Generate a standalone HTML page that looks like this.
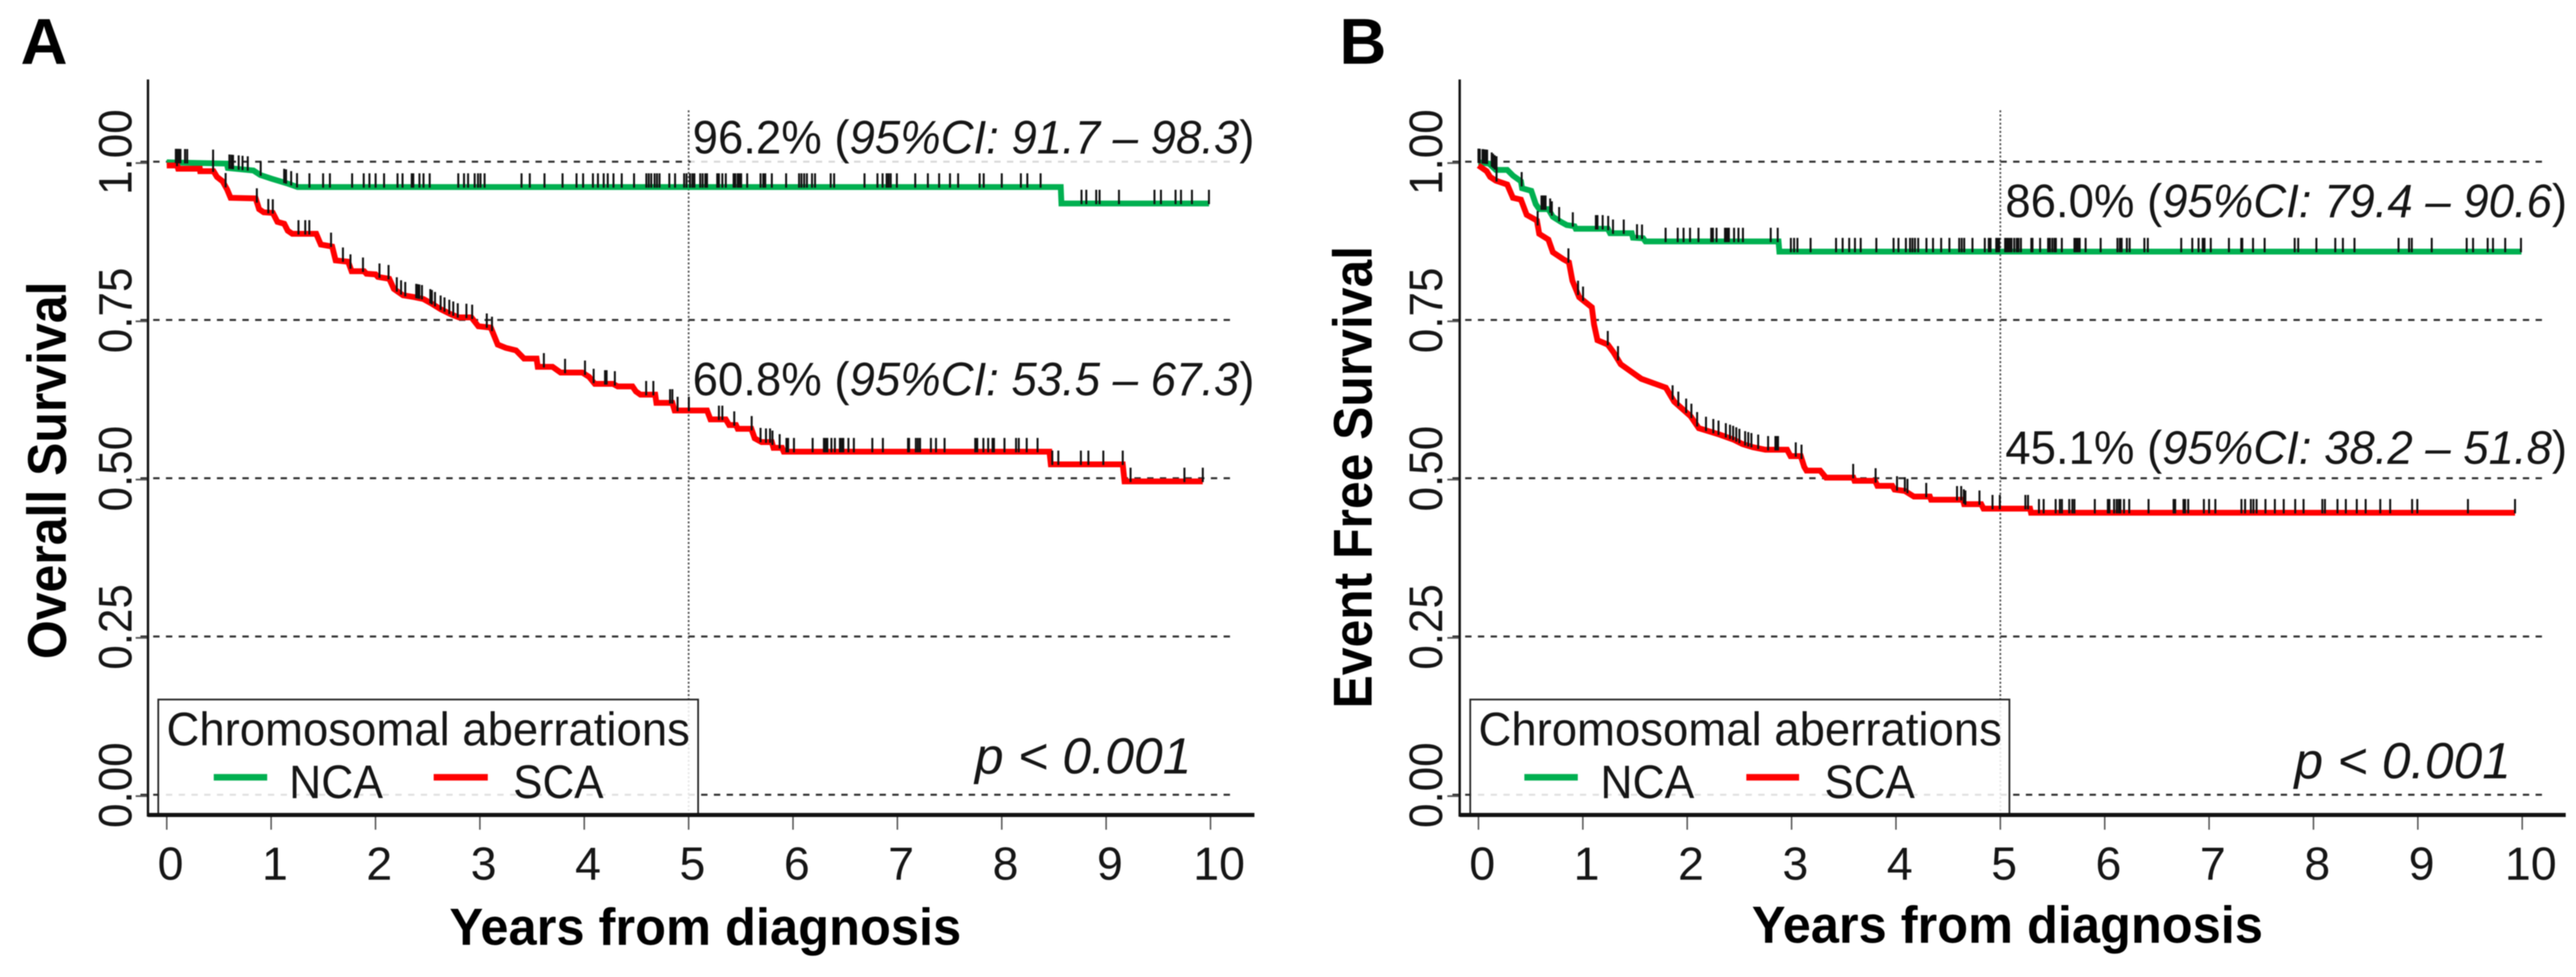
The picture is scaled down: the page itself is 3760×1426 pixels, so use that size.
<!DOCTYPE html>
<html lang="en">
<head>
<meta charset="utf-8">
<title>Kaplan-Meier survival curves by chromosomal aberrations</title>
<style>
html,body{margin:0;padding:0;background:#fff;width:3760px;height:1426px;overflow:hidden}
svg{display:block;filter:blur(.8px)}
text{font-family:"Liberation Sans",sans-serif;fill:#151515}
.b{font-weight:700;fill:#000}
</style>
</head>
<body>
<svg id="figure" xmlns="http://www.w3.org/2000/svg" width="3760" height="1426" viewBox="0 0 3760 1426">
<rect x="0" y="0" width="3760" height="1426" fill="#fff"/>

<g id="panel-a">
  <g id="a-plot"></g>
  <text class="b" x="30" y="93" font-size="95">A</text>
  <text class="b" transform="translate(96,686.5) rotate(-90)" text-anchor="middle" font-size="80" textLength="551" lengthAdjust="spacingAndGlyphs">Overall Survival</text>
  <text class="b" x="656" y="1379" font-size="76" textLength="747" lengthAdjust="spacingAndGlyphs">Years from diagnosis</text>
  <text x="1011" y="224" font-size="69" textLength="820" lengthAdjust="spacingAndGlyphs">96.2% (<tspan font-style="italic">95%CI: 91.7 – 98.3</tspan>)</text>
  <text x="1011" y="577" font-size="69" textLength="820" lengthAdjust="spacingAndGlyphs">60.8% (<tspan font-style="italic">95%CI: 53.5 – 67.3</tspan>)</text>
  <text x="1423" y="1129" font-size="74" font-style="italic" textLength="316" lengthAdjust="spacingAndGlyphs">p &lt; 0.001</text>
  <g>
    <rect x="231" y="1021" width="788" height="168" fill="#fff" fill-opacity=".86" stroke="#222" stroke-width="2.5"/>
    <text x="243" y="1088" font-size="69" textLength="764" lengthAdjust="spacingAndGlyphs">Chromosomal aberrations</text>
    <line x1="312" x2="390" y1="1134.5" y2="1134.5" stroke="#00b050" stroke-width="9.5"/>
    <text x="422" y="1165" font-size="69" textLength="137" lengthAdjust="spacingAndGlyphs">NCA</text>
    <line x1="633" x2="712" y1="1134.5" y2="1134.5" stroke="#ff0000" stroke-width="9.5"/>
    <text x="749" y="1165" font-size="69" textLength="132" lengthAdjust="spacingAndGlyphs">SCA</text>
  </g>
  <line x1="216" x2="1831" y1="1189.5" y2="1189.5" stroke="#111" stroke-width="6"/>
</g>

<g id="panel-b">
  <g id="b-plot"></g>
  <text class="b" x="1955" y="93" font-size="95">B</text>
  <text class="b" transform="translate(2002,696.5) rotate(-90)" text-anchor="middle" font-size="80" textLength="675" lengthAdjust="spacingAndGlyphs">Event Free Survival</text>
  <text class="b" x="2557" y="1376" font-size="76" textLength="746" lengthAdjust="spacingAndGlyphs">Years from diagnosis</text>
  <text x="2927" y="317" font-size="69" textLength="820" lengthAdjust="spacingAndGlyphs">86.0% (<tspan font-style="italic">95%CI: 79.4 – 90.6</tspan>)</text>
  <text x="2927" y="677" font-size="69" textLength="820" lengthAdjust="spacingAndGlyphs">45.1% (<tspan font-style="italic">95%CI: 38.2 – 51.8</tspan>)</text>
  <text x="3349" y="1136" font-size="74" font-style="italic" textLength="316" lengthAdjust="spacingAndGlyphs">p &lt; 0.001</text>
  <g>
    <rect x="2146" y="1021" width="787" height="168" fill="#fff" fill-opacity=".86" stroke="#222" stroke-width="2.5"/>
    <text x="2158" y="1088" font-size="69" textLength="764" lengthAdjust="spacingAndGlyphs">Chromosomal aberrations</text>
    <line x1="2225" x2="2303" y1="1134.5" y2="1134.5" stroke="#00b050" stroke-width="9.5"/>
    <text x="2336" y="1165" font-size="69" textLength="137" lengthAdjust="spacingAndGlyphs">NCA</text>
    <line x1="2549" x2="2626" y1="1134.5" y2="1134.5" stroke="#ff0000" stroke-width="9.5"/>
    <text x="2663" y="1165" font-size="69" textLength="132" lengthAdjust="spacingAndGlyphs">SCA</text>
  </g>
  <line x1="2130.6" x2="3745" y1="1189.5" y2="1189.5" stroke="#111" stroke-width="6"/>
</g>
</svg>

<script>
// Axis tick values and labels
const xTickYears = [0, 1, 2, 3, 4, 5, 6, 7, 8, 9, 10];
const xTickLabels = ["0", "1", "2", "3", "4", "5", "6", "7", "8", "9", "10"];
const yTickValues = [1, 0.75, 0.5, 0.25, 0];
const yTickLabels = ["1.00", "0.75", "0.50", "0.25", "0.00"];

// Panel A: overall survival, NCA
const osNcaYears = [0, 0.575, 0.585, 0.831, 0.896, 1.006, 1.148, 1.253, 8.565, 8.572, 9.986];
const osNcaSurvival = [0.999, 0.997, 0.990, 0.986, 0.979, 0.973, 0.966, 0.960, 0.960, 0.934, 0.934];
const osNcaCensored = [0.087, 0.103, 0.116, 0.131, 0.175, 0.196, 0.444, 0.600, 0.619, 0.635, 0.689, 0.726, 0.776, 0.900, 1.125, 1.143, 1.192, 1.248, 1.367, 1.498, 1.563, 1.776, 1.887, 1.942, 2.001, 2.082, 2.211, 2.259, 2.347, 2.362, 2.421, 2.460, 2.519, 2.793, 2.848, 2.887, 2.950, 2.982, 3.006, 3.045, 3.399, 3.478, 3.619, 3.792, 3.926, 3.989, 4.083, 4.131, 4.186, 4.225, 4.280, 4.359, 4.477, 4.595, 4.618, 4.642, 4.674, 4.697, 4.721, 4.815, 4.870, 4.957, 4.98, 5.013, 5.036, 5.055, 5.111, 5.134, 5.160, 5.176, 5.274, 5.290, 5.323, 5.356, 5.431, 5.447, 5.470, 5.486, 5.503, 5.561, 5.689, 5.715, 5.734, 5.797, 5.934, 6.058, 6.081, 6.107, 6.133, 6.182, 6.211, 6.361, 6.394, 6.685, 6.809, 6.858, 6.897, 6.916, 6.936, 6.995, 7.171, 7.292, 7.400, 7.504, 7.582, 7.788, 7.827, 8.000, 8.183, 8.245, 8.372, 8.764, 8.810, 8.905, 8.937, 9.123, 9.463, 9.525, 9.665, 9.717, 9.822, 9.985];

// Panel A: overall survival, SCA
const osScaYears = [0, 0.100, 0.109, 0.317, 0.320, 0.448, 0.481, 0.535, 0.579, 0.612, 0.852, 0.885, 0.929, 1.017, 1.060, 1.126, 1.159, 1.203, 1.432, 1.476, 1.585, 1.618, 1.738, 1.771, 1.891, 1.913, 2.001, 2.023, 2.132, 2.176, 2.263, 2.373, 2.460, 2.537, 2.624, 2.723, 2.799, 2.919, 2.985, 3.105, 3.171, 3.248, 3.346, 3.423, 3.543, 3.554, 3.696, 3.773, 3.981, 4.047, 4.101, 4.276, 4.320, 4.462, 4.495, 4.538, 4.680, 4.691, 4.844, 4.866, 5.176, 5.209, 5.356, 5.388, 5.454, 5.470, 5.601, 5.633, 5.699, 5.797, 5.813, 5.895, 5.911, 8.457, 8.470, 9.159, 9.176, 9.926];
const osScaSurvival = [0.994, 0.994, 0.989, 0.989, 0.985, 0.985, 0.976, 0.969, 0.956, 0.943, 0.942, 0.925, 0.920, 0.919, 0.905, 0.902, 0.891, 0.886, 0.886, 0.869, 0.866, 0.844, 0.842, 0.827, 0.827, 0.823, 0.822, 0.818, 0.815, 0.799, 0.789, 0.786, 0.783, 0.776, 0.767, 0.759, 0.754, 0.754, 0.740, 0.738, 0.711, 0.706, 0.702, 0.689, 0.689, 0.676, 0.676, 0.667, 0.667, 0.660, 0.649, 0.649, 0.645, 0.645, 0.637, 0.632, 0.632, 0.619, 0.619, 0.607, 0.607, 0.593, 0.593, 0.584, 0.584, 0.578, 0.578, 0.563, 0.557, 0.557, 0.548, 0.548, 0.542, 0.542, 0.522, 0.522, 0.495, 0.495];
const osScaCensored = [0.098, 0.444, 0.564, 0.863, 0.973, 1.016, 1.262, 1.327, 1.366, 1.574, 1.688, 1.760, 1.880, 2.038, 2.125, 2.204, 2.245, 2.285, 2.390, 2.405, 2.420, 2.445, 2.525, 2.540, 2.570, 2.624, 2.661, 2.707, 2.745, 2.788, 2.871, 2.926, 3.066, 3.116, 3.613, 3.816, 4.007, 4.090, 4.199, 4.214, 4.293, 4.593, 4.662, 4.822, 4.844, 4.894, 5.002, 5.290, 5.323, 5.437, 5.604, 5.689, 5.741, 5.780, 5.803, 5.872, 5.937, 5.953, 6.009, 6.188, 6.296, 6.312, 6.329, 6.368, 6.401, 6.449, 6.466, 6.482, 6.531, 6.583, 6.760, 6.861, 7.102, 7.112, 7.177, 7.197, 7.217, 7.321, 7.370, 7.452, 7.746, 7.765, 7.824, 7.870, 7.912, 7.925, 8.026, 8.137, 8.163, 8.239, 8.343, 8.484, 8.542, 8.758, 8.830, 8.973, 9.159, 9.234, 9.750, 9.926];

// Panel B: event free survival, NCA
const efsNcaYears = [0, 0.101, 0.166, 0.276, 0.330, 0.407, 0.418, 0.506, 0.549, 0.582, 0.670, 0.713, 0.790, 0.845, 0.921, 0.932, 1.239, 1.261, 1.469, 1.480, 1.578, 1.600, 2.875, 2.883, 9.993];
const efsNcaSurvival = [0.999, 0.997, 0.987, 0.987, 0.978, 0.969, 0.958, 0.954, 0.933, 0.925, 0.925, 0.913, 0.905, 0.900, 0.898, 0.894, 0.894, 0.887, 0.887, 0.880, 0.879, 0.874, 0.874, 0.858, 0.858];
const efsNcaCensored = [0, 0.006, 0.013, 0.039, 0.050, 0.068, 0.083, 0.127, 0.140, 0.155, 0.173, 0.414, 0.604, 0.617, 0.630, 0.643, 0.687, 0.703, 0.773, 0.904, 1.125, 1.140, 1.190, 1.243, 1.289, 1.392, 1.519, 1.567, 1.793, 1.909, 1.965, 2.027, 2.108, 2.230, 2.246, 2.281, 2.362, 2.372, 2.388, 2.399, 2.449, 2.491, 2.534, 2.800, 2.867, 2.993, 3.024, 3.056, 3.182, 3.426, 3.489, 3.552, 3.607, 3.662, 3.812, 3.977, 4.024, 4.095, 4.135, 4.158, 4.182, 4.213, 4.292, 4.355, 4.433, 4.512, 4.606, 4.630, 4.654, 4.733, 4.851, 4.889, 4.906, 4.961, 4.973, 4.989, 5.046, 5.060, 5.073, 5.090, 5.107, 5.133, 5.157, 5.174, 5.197, 5.297, 5.308, 5.381, 5.458, 5.475, 5.498, 5.519, 5.532, 5.589, 5.710, 5.726, 5.743, 5.760, 5.817, 5.961, 6.122, 6.145, 6.162, 6.212, 6.239, 6.380, 6.413, 6.733, 6.839, 6.899, 6.939, 6.956, 7.016, 7.190, 7.308, 7.318, 7.421, 7.532, 7.820, 7.854, 8.028, 8.209, 8.282, 8.393, 8.815, 8.916, 8.942, 9.133, 9.468, 9.529, 9.669, 9.720, 9.837, 9.988];

// Panel B: event free survival, SCA
const efsScaYears = [0, 0.035, 0.079, 0.112, 0.166, 0.276, 0.330, 0.407, 0.462, 0.560, 0.582, 0.670, 0.713, 0.812, 0.867, 0.900, 0.965, 1.086, 1.107, 1.140, 1.239, 1.293, 1.363, 1.560, 1.796, 1.875, 2.032, 2.111, 2.308, 2.443, 2.530, 2.629, 2.749, 2.957, 2.990, 3.088, 3.121, 3.143, 3.274, 3.329, 3.592, 3.603, 3.800, 3.822, 3.965, 3.986, 4.085, 4.172, 4.325, 4.336, 4.642, 4.653, 4.817, 4.839, 5.285, 5.294, 9.931];
const efsScaSurvival = [0.994, 0.990, 0.985, 0.976, 0.970, 0.964, 0.943, 0.940, 0.916, 0.907, 0.886, 0.877, 0.857, 0.846, 0.841, 0.812, 0.786, 0.770, 0.743, 0.718, 0.711, 0.699, 0.680, 0.657, 0.643, 0.621, 0.598, 0.579, 0.569, 0.561, 0.554, 0.549, 0.545, 0.545, 0.535, 0.535, 0.518, 0.512, 0.512, 0.501, 0.501, 0.496, 0.496, 0.488, 0.488, 0.482, 0.480, 0.471, 0.471, 0.466, 0.466, 0.459, 0.459, 0.452, 0.452, 0.4455, 0.4455];
const efsScaCensored = [0.173, 0.567, 0.862, 0.954, 1.002, 1.239, 1.337, 1.860, 1.915, 1.990, 2.040, 2.095, 2.180, 2.250, 2.300, 2.370, 2.410, 2.440, 2.470, 2.500, 2.555, 2.585, 2.615, 2.680, 2.775, 2.845, 2.855, 2.870, 3.040, 3.095, 3.590, 3.805, 4.010, 4.085, 4.110, 4.290, 4.585, 4.625, 4.650, 4.665, 4.800, 4.925, 4.995, 5.240, 5.265, 5.370, 5.415, 5.530, 5.570, 5.590, 5.660, 5.690, 5.710, 5.905, 6.030, 6.045, 6.090, 6.115, 6.135, 6.150, 6.185, 6.235, 6.420, 6.660, 6.675, 6.755, 6.770, 6.800, 6.950, 7.000, 7.060, 7.310, 7.345, 7.400, 7.425, 7.455, 7.540, 7.630, 7.715, 7.825, 7.905, 8.085, 8.110, 8.230, 8.310, 8.415, 8.500, 8.640, 8.735, 8.945, 8.995, 9.480, 9.931];

const SVG_NS = "http://www.w3.org/2000/svg";
const yZeroPixel = 1160;
const yPixelsPerUnit = 924;
const xPixelsPerYear = 152.35;
const censorHeight = 20;

function yScale(value) { return yZeroPixel - yPixelsPerUnit * value; }
function xScale(x0, year) { return x0 + xPixelsPerYear * year; }

function make(tag, attrs, parent) {
  const node = document.createElementNS(SVG_NS, tag);
  Object.keys(attrs).forEach(function (k) { node.setAttribute(k, attrs[k]); });
  parent.appendChild(node);
  return node;
}

function survivalAt(years, survival, t) {
  let i = 0;
  while (i < years.length - 1 && years[i + 1] < t) i++;
  if (i >= years.length - 1) return survival[survival.length - 1];
  const span = years[i + 1] - years[i];
  if (t <= years[i] || span === 0) return survival[i];
  return survival[i] + (survival[i + 1] - survival[i]) * (t - years[i]) / span;
}

function drawSeries(plot, x0, years, survival, censored, color) {
  const parts = years.map(function (t, i) {
    return (i ? "L" : "M") + xScale(x0, t).toFixed(1) + " " + yScale(survival[i]).toFixed(1);
  });
  const curve = make("path", { d: parts.join(""), fill: "none", stroke: color, "stroke-width": 8.5, "stroke-linejoin": "miter" }, plot);
  
  
  return function drawCensors() {
    censored.forEach(function (t) {
      const cx = xScale(x0, t);
      const cy = yScale(survivalAt(years, survival, t));
      const mark = make("line", { x1: cx, x2: cx, y1: cy - censorHeight, y2: cy + 1, stroke: "#111", "stroke-width": 2.9 }, plot);
      
      
    });
  };
}

function drawPanel(id, x0, axisX, dashStart, dashEnd, labelX, maskTop, nca, sca) {
  const plot = document.getElementById(id);

  yTickValues.forEach(function (v, i) {
    const y = yScale(v);
    const ref = make("line", { x1: dashStart, x2: dashEnd, y1: y, y2: y, stroke: "#333", "stroke-width": 3, "stroke-dasharray": "9.3 9.3" }, plot);
    
    
    const tick = make("line", { x1: axisX - 18, x2: axisX, y1: y + 2, y2: y + 2, stroke: "#555", "stroke-width": 2.5 }, plot);
    
    
    const label = make("text", { transform: "translate(" + labelX + "," + (y - 14) + ") rotate(-90)", "text-anchor": "middle", "font-size": 69, textLength: 125, lengthAdjust: "spacingAndGlyphs" }, plot);
    
    
    label.textContent = yTickLabels[i];
  });

  const x5 = xScale(x0, 5);
  const marker = make("line", { x1: x5, x2: x5, y1: 161, y2: 1189, stroke: "#555", "stroke-width": 2.5, "stroke-dasharray": "3 3" }, plot);
  
  

  if (maskTop) {
    const mask = make("rect", { x: x5 + 3, y: yScale(1) - 5, width: dashEnd - x5, height: 10, fill: "#fff", "fill-opacity": 0.82 }, plot);
    
    
  }

  const yAxis = make("line", { x1: axisX, x2: axisX, y1: 116, y2: 1192, stroke: "#111", "stroke-width": 3.5 }, plot);
  
  

  xTickYears.forEach(function (year, i) {
    const x = xScale(x0, year);
    const tick = make("line", { x1: x, x2: x, y1: 1190, y2: 1211, stroke: "#555", "stroke-width": 2.2 }, plot);
    
    
    const label = make("text", { x: x + (xTickLabels[i].length > 1 ? 12.5 : 5.5), y: 1284, "text-anchor": "middle", "font-size": 68 }, plot);
    
    
    label.textContent = xTickLabels[i];
  });

  const ncaCensors = drawSeries(plot, x0, nca.years, nca.survival, nca.censored, "#00b050");
  const scaCensors = drawSeries(plot, x0, sca.years, sca.survival, sca.censored, "#ff0000");
  ncaCensors();
  scaCensors();
}

drawPanel("a-plot", 243.4, 216, 205, 1798, 192, true,
  { years: osNcaYears, survival: osNcaSurvival, censored: osNcaCensored },
  { years: osScaYears, survival: osScaSurvival, censored: osScaCensored });
drawPanel("b-plot", 2158, 2130.6, 2120, 3718, 2105, false,
  { years: efsNcaYears, survival: efsNcaSurvival, censored: efsNcaCensored },
  { years: efsScaYears, survival: efsScaSurvival, censored: efsScaCensored });
</script>
</body>
</html>
